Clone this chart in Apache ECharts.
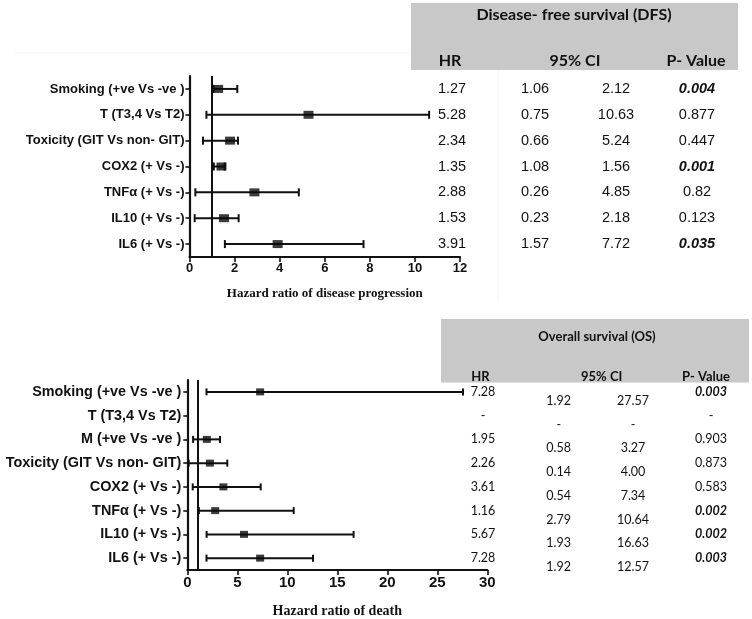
<!DOCTYPE html>
<html><head><meta charset="utf-8">
<script src="https://cdn.jsdelivr.net/npm/echarts@6/dist/echarts.min.js"></script>
<style>html,body{margin:0;padding:0;background:#fff}#c{width:752px;height:619px}</style>
</head><body><div id="c"></div>
<script>
// ---- Disease-free survival (DFS) ----
const dfsLabels = ['Smoking (+ve Vs -ve )','T (T3,4 Vs T2)','Toxicity (GIT Vs non- GIT)','COX2 (+ Vs -)','TNFα (+ Vs -)','IL10 (+ Vs -)','IL6 (+ Vs -)'];
// plotted values (as drawn in the forest plot)
const dfsEst = [1.27, 5.28, 1.8, 1.42, 2.88, 1.53, 3.91];
const dfsLo  = [1.06, 0.75, 0.6, 1.08, 0.26, 0.23, 1.57];
const dfsHi  = [2.12, 10.63, 2.15, 1.56, 4.85, 2.18, 7.72];
// table text
const dfsHR   = ['1.27','5.28','2.34','1.35','2.88','1.53','3.91'];
const dfsCILo = ['1.06','0.75','0.66','1.08','0.26','0.23','1.57'];
const dfsCIHi = ['2.12','10.63','5.24','1.56','4.85','2.18','7.72'];
const dfsP    = ['0.004','0.877','0.447','0.001','0.82','0.123','0.035'];
const dfsSig  = [true,false,false,true,false,false,true];
const dfsTicks = {min:0, max:12, interval:2};

// ---- Overall survival (OS) ----
const osLabels = ['Smoking (+ve Vs -ve )','T (T3,4 Vs T2)','M (+ve Vs -ve )','Toxicity (GIT Vs non- GIT)','COX2 (+ Vs -)','TNFα (+ Vs -)','IL10 (+ Vs -)','IL6 (+ Vs -)'];
const osEst = [7.28, null, 1.95, 2.26, 3.61, 2.79, 5.67, 7.28];
const osLo  = [1.92, null, 0.58, 0.14, 0.54, 1.16, 1.93, 1.92];
const osHi  = [27.57, null, 3.27, 4.00, 7.34, 10.64, 16.63, 12.57];
const osHR   = ['7.28','-','1.95','2.26','3.61','1.16','5.67','7.28'];
const osCILo = ['1.92','-','0.58','0.14','0.54','2.79','1.93','1.92'];
const osCIHi = ['27.57','-','3.27','4.00','7.34','10.64','16.63','12.57'];
const osP    = ['0.003','-','0.903','0.873','0.583','0.002','0.002','0.003'];
const osSig  = [true,false,false,false,false,true,true,true];
const osTicks = {min:0, max:30, interval:5};

const chart = echarts.init(document.getElementById('c'), null, {renderer:'canvas'});

function errSeries(lo, hi, gi, cap){
  return {
    type:'custom', xAxisIndex:gi, yAxisIndex:gi, clip:false, z:3,
    encode:{x:[0,1], y:2},
    data: lo.map((v,i)=> v==null ? null : [v, hi[i], i]).filter(d=>d),
    renderItem(params, api){
      const a = api.coord([api.value(0), api.value(2)]);
      const b = api.coord([api.value(1), api.value(2)]);
      const st = {stroke:'#111', lineWidth:2};
      return {type:'group', children:[
        {type:'line', shape:{x1:a[0],y1:a[1],x2:b[0],y2:b[1]}, style:st},
        {type:'line', shape:{x1:a[0],y1:a[1]-cap,x2:a[0],y2:a[1]+cap}, style:st},
        {type:'line', shape:{x1:b[0],y1:b[1]-cap,x2:b[0],y2:b[1]+cap}, style:st}
      ]};
    }
  };
}
function pointSeries(est, gi, size){
  return {
    type:'scatter', xAxisIndex:gi, yAxisIndex:gi, symbol:'rect', symbolSize:size, z:4,
    itemStyle:{color:'#0a0a0a'}, silent:true,
    data: est.map((v,i)=> v==null ? null : [v, i]).filter(d=>d),
    markLine:{silent:true, symbol:'none', label:{show:false},
      lineStyle:{color:'#111', width:2, type:'solid'}, data:[{xAxis:1}]}
  };
}
function tableSeries(gi, cols){
  const n = cols[0].arr.length;
  return {
    type:'custom', xAxisIndex:gi, yAxisIndex:gi, clip:false, silent:true,
    encode:{x:0, y:1},
    data: Array.from({length:n}, (_,i)=>[0,i]),
    renderItem(params, api){
      const i = api.value(1);
      const y = api.coord([0, i])[1];
      return {type:'group', children: cols.map(c=>({
        type:'text', x:c.x, y:y + c.dy,
        style:{text:c.arr[i], align:'center', verticalAlign:'middle', fill:'#111',
          font: (c.sig && c.sig[i]) ? c.sigFont : c.font}
      }))};
    }
  };
}

const topFont = '14.5px "Liberation Sans", Arial, sans-serif';
const topSig = 'italic bold 14.5px "Liberation Sans", Arial, sans-serif';
const botFont = '12.5px Lato, "Open Sans", sans-serif';
const botSig = 'italic bold 12.5px Lato, "Open Sans", sans-serif';

function yAxis(gi, labels, fs, mg){
  return {type:'category', gridIndex:gi, data:labels, inverse:true,
    axisLine:{lineStyle:{color:'#111', width:2.2}},
    axisTick:{show:true, alignWithLabel:true, length:4, lineStyle:{color:'#111', width:1.6}},
    axisLabel:{color:'#111', fontWeight:'bold', fontSize:fs, fontFamily:'"Liberation Sans", Arial, sans-serif', margin:mg},
    splitLine:{show:false}};
}
function xAxis(gi, t, name, nfs, gap, lfs){
  return {type:'value', gridIndex:gi, min:t.min, max:t.max, interval:t.interval,
    name:name, nameLocation:'middle', nameGap:gap,
    nameTextStyle:{fontFamily:'"Liberation Serif", "Times New Roman", serif', fontWeight:'bold', fontSize:nfs, color:'#111'},
    axisLine:{show:true, onZero:false, lineStyle:{color:'#111', width:2.2}},
    axisTick:{show:true, length:5, lineStyle:{color:'#111', width:1.6}},
    axisLabel:{color:'#111', fontWeight:'bold', fontSize:lfs, fontFamily:'"Liberation Sans", Arial, sans-serif', margin:5},
    splitLine:{show:false}};
}

const hdrFontTop = 'bold 16px Lato, "Open Sans", sans-serif';
const hdrFontBot = 'bold 13px Lato, "Open Sans", sans-serif';

chart.setOption({
  animation:false,
  backgroundColor:'#fff',
  grid:[
    {left:189.5, right:292, top:76, bottom:362},
    {left:187.3, right:264.7, top:380, bottom:42.3}
  ],
  xAxis:[ xAxis(0, dfsTicks, 'Hazard ratio of disease progression', 13, 30, 13),
          xAxis(1, osTicks, 'Hazard ratio of death', 14, 34, 15) ],
  yAxis:[ yAxis(0, dfsLabels, 13, 5), yAxis(1, osLabels, 14.4, 6) ],
  graphic:[
    {type:'line', shape:{x1:15,y1:53,x2:411,y2:53}, style:{stroke:'#f1f1f1', lineWidth:1}, silent:true},
    {type:'line', shape:{x1:498,y1:70,x2:498,y2:300}, style:{stroke:'#f3f3f3', lineWidth:1}, silent:true},
    {type:'rect', shape:{x:411, y:3, width:327, height:67}, style:{fill:'#c8c8c8'}, silent:true, z:-1},
    {type:'text', x:574, y:15, style:{text:'Disease- free survival (DFS)', font:hdrFontTop, fill:'#111', align:'center', verticalAlign:'middle'}},
    {type:'text', x:450, y:61, style:{text:'HR', font:hdrFontTop, fill:'#111', align:'center', verticalAlign:'middle'}},
    {type:'text', x:575, y:61, style:{text:'95% CI', font:hdrFontTop, fill:'#111', align:'center', verticalAlign:'middle'}},
    {type:'text', x:696, y:61, style:{text:'P- Value', font:hdrFontTop, fill:'#111', align:'center', verticalAlign:'middle'}},
    {type:'rect', shape:{x:441, y:319, width:308, height:63.5}, style:{fill:'#c8c8c8'}, silent:true, z:-1},
    {type:'text', x:597, y:337, style:{text:'Overall survival (OS)', font:hdrFontBot, fill:'#111', align:'center', verticalAlign:'middle'}},
    {type:'text', x:480.5, y:376.5, style:{text:'HR', font:hdrFontBot, fill:'#111', align:'center', verticalAlign:'middle'}},
    {type:'text', x:601.7, y:376.5, style:{text:'95% CI', font:hdrFontBot, fill:'#111', align:'center', verticalAlign:'middle'}},
    {type:'text', x:706, y:376.5, style:{text:'P- Value', font:hdrFontBot, fill:'#111', align:'center', verticalAlign:'middle'}}
  ],
  series:[
    errSeries(dfsLo, dfsHi, 0, 4),
    pointSeries(dfsEst, 0, [10,8]),
    errSeries(osLo, osHi, 1, 3.5),
    pointSeries(osEst, 1, [8,7]),
    tableSeries(0, [
      {arr:dfsHR, x:452, dy:0, font:topFont},
      {arr:dfsCILo, x:535, dy:0, font:topFont},
      {arr:dfsCIHi, x:616, dy:0, font:topFont},
      {arr:dfsP, x:697, dy:0, font:topFont, sig:dfsSig, sigFont:topSig}
    ]),
    tableSeries(1, [
      {arr:osHR, x:483, dy:0, font:botFont},
      {arr:osCILo, x:558.7, dy:9, font:botFont},
      {arr:osCIHi, x:633, dy:9, font:botFont},
      {arr:osP, x:711, dy:0, font:botFont, sig:osSig, sigFont:botSig}
    ])
  ]
});
</script>
</body></html>
